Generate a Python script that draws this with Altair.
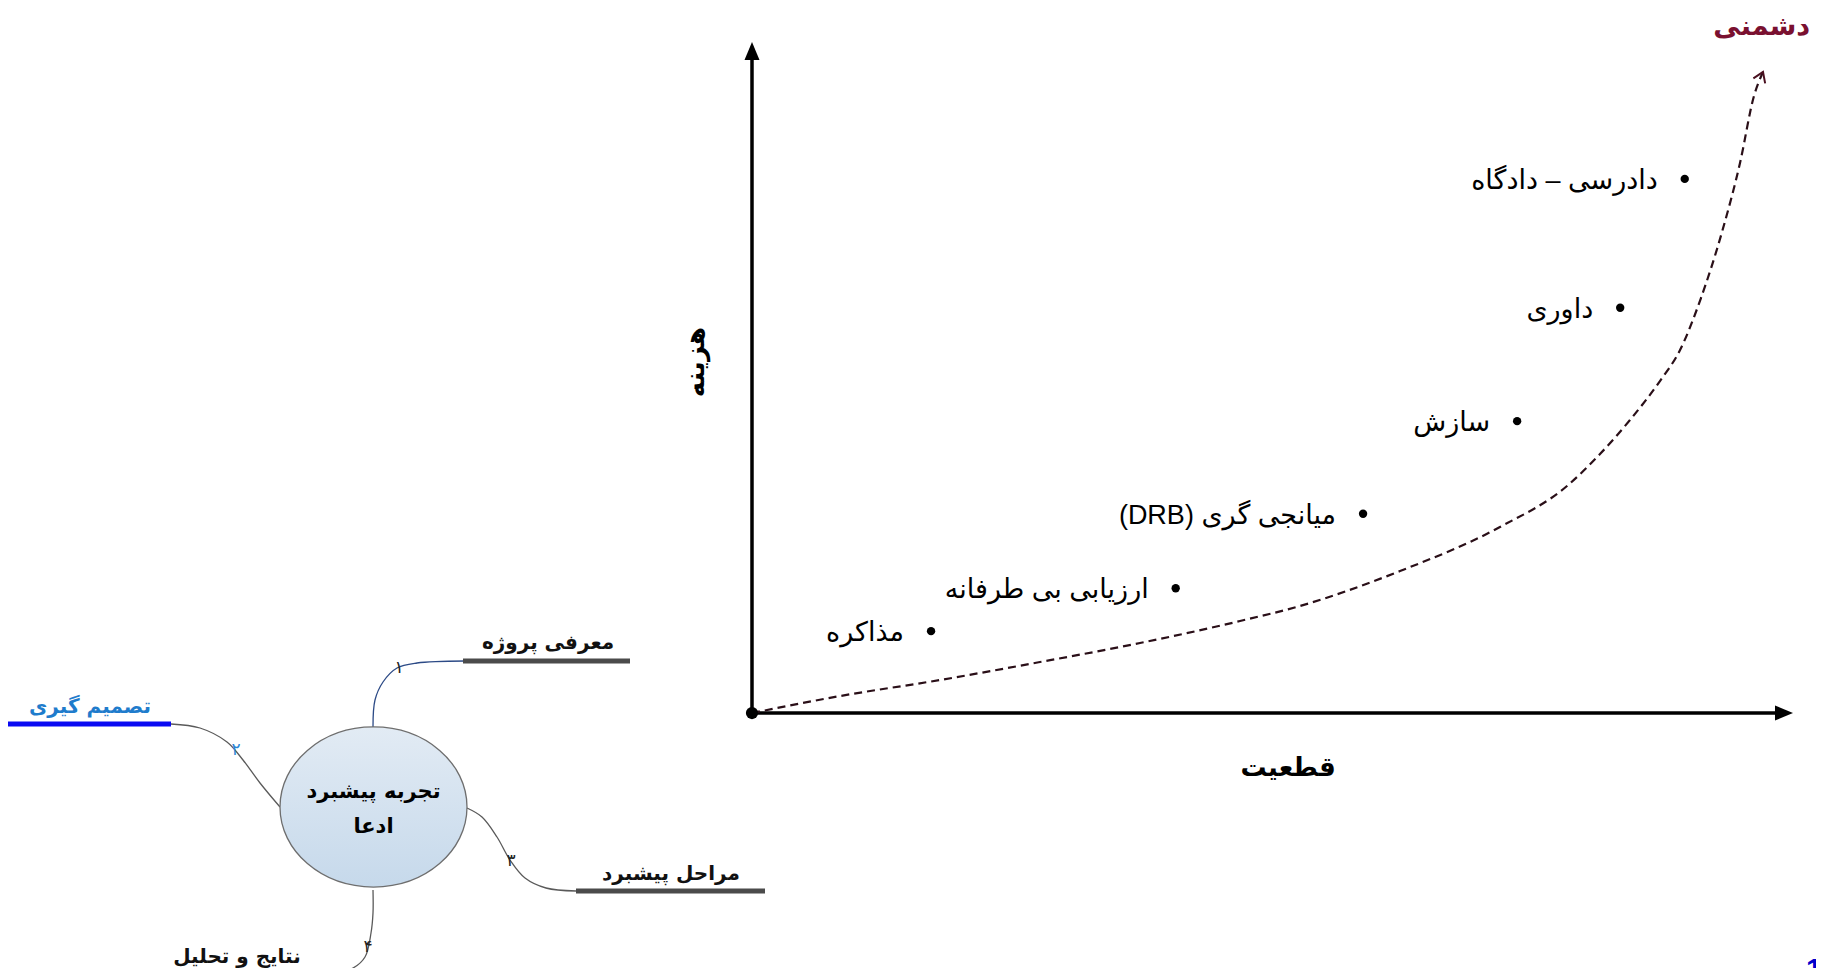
import altair as alt
import pandas as pd

# ---------------- main chart: certainty (x) vs cost (y), arbitrary 0-100 units ----------------
methods = ["مذاکره", "ارزیابی بی طرفانه", "میانجی گری (DRB)", "سازش", "داوری", "دادرسی – دادگاه"]
certainty = [17.2, 40.7, 58.7, 73.5, 83.4, 89.6]
cost = [12.2, 18.6, 29.7, 43.5, 60.4, 79.6]

trend_certainty = [0, 8.45, 18.06, 27.67, 37.27, 46.88, 52.64, 62.25, 71.85, 78.29, 81.46,
                   84.34, 87.22, 89.15, 91.16, 93.18, 94.91, 96.25, 97.12]
trend_cost = [0, 2.53, 4.92, 7.60, 10.43, 13.71, 15.95, 21.16, 27.72, 33.83, 38.60,
              43.67, 49.48, 54.10, 61.85, 71.68, 81.97, 91.95, 95.53]

axis_max = 100
x_title = "قطعیت"
y_title = "هزینه"
end_title = "دشمنی"

# ---------------- mind map (diagram units) ----------------
centre_lines = ["تجربه پیشبرد", "ادعا"]
centre_x, centre_y = [373.5], [807]
branch_names = ["معرفی پروژه", "تصمیم گیری", "مراحل پیشبرد", "نتایج و تحلیل"]
branch_nums = ["۱", "۲", "۳", "۴"]
bar_x1 = [463, 3, 576, 153]
bar_x2 = [630, 171, 765, 320]
bar_y = [661, 724, 891, 973]
label_x = [548, 90, 671, 237]
label_y = [643, 707, 874, 957]
num_x = [399, 236, 511, 368]
num_y = [668, 750, 861, 947]
conn1 = [(373, 727), (375, 700), (383, 682), (397, 668), (417, 663), (465, 661)]
conn2 = [(171, 724), (200, 728), (227, 742), (243, 760), (260, 783), (280, 807)]
conn3 = [(467, 808), (482, 817), (497, 837), (510, 860), (525, 878), (546, 888), (576, 891)]
conn4 = [(373, 890), (373, 913), (371, 933), (365, 957), (353, 968), (333, 973), (320, 973)]
page_number = "1"

RLE, PDF = "\u202b", "\u202c"

W, H = 1808, 960
# main frame scale domains
XD = [-71.47, 102.21]
YD = [-38.0, 105.07]
# diagram frame (page-like units)
MXD = [8, 1816]
MYD = [8, 968]


def X(f):
    return alt.X(f"{f}:Q", scale=alt.Scale(domain=XD, nice=False, zero=False), axis=None)


def Y(f):
    return alt.Y(f"{f}:Q", scale=alt.Scale(domain=YD, nice=False, zero=False), axis=None)


def MX(f):
    return alt.X(f"{f}:Q", scale=alt.Scale(domain=MXD, nice=False, zero=False), axis=None)


def MY(f):
    return alt.Y(f"{f}:Q", scale=alt.Scale(domain=MYD, nice=False, zero=False, reverse=True), axis=None)


FONT = "DejaVu Sans"
LABEL_FONT = "Liberation Sans, DejaVu Sans"

# ---- main layers
pts = pd.DataFrame({"m": [RLE + m + PDF for m in methods], "c": certainty, "v": cost})
trend = pd.DataFrame({"c": trend_certainty, "v": trend_cost, "i": list(range(len(trend_cost)))})
axes_df = pd.DataFrame({"x": [0, 0], "x2": [axis_max * 0.983, 0], "y": [0, 0], "y2": [0, axis_max * 0.976]})
heads = pd.DataFrame({"x": [axis_max, 0], "y": [0, axis_max], "a": [0, 270]})
origin = pd.DataFrame({"x": [0], "y": [0]})
titles = pd.DataFrame({"t": [x_title], "x": [51.5], "y": [-8.2]})
ytitle = pd.DataFrame({"t": [y_title], "x": [-5.4], "y": [52.3]})
etitle = pd.DataFrame({"t": [end_title], "x": [97.0], "y": [102.3]})
tip = trend.tail(1)

axis_rules = alt.Chart(axes_df).mark_rule(color="black", strokeWidth=3.5).encode(
    x=X("x"), x2="x2:Q", y=Y("y"), y2="y2:Q")
arrow_heads = alt.Chart(heads).mark_point(
    shape="M0,0 L-2.4,-1 L-2.4,1 Z", size=225, filled=True, color="black", opacity=1
).encode(x=X("x"), y=Y("y"), angle=alt.Angle("a:Q", scale=None))
origin_dot = alt.Chart(origin).mark_circle(size=150, color="black", opacity=1).encode(x=X("x"), y=Y("y"))
trend_line = alt.Chart(trend).mark_line(
    color="#2a0f18", strokeWidth=2.2, strokeDash=[8, 5], interpolate="monotone"
).encode(x=X("c"), y=Y("v"), order="i:Q")
trend_head = alt.Chart(tip).mark_point(
    shape="M-0.8,1.2 L0,0 L0.8,1.2", size=256, filled=False, color="#4a1020", strokeWidth=2,
    angle=23, opacity=1
).encode(x=X("c"), y=Y("v"))
dots = alt.Chart(pts).mark_circle(size=70, color="black", opacity=1).encode(x=X("c"), y=Y("v"))
dot_labels = alt.Chart(pts).mark_text(
    align="right", baseline="middle", dx=-27, dy=2, fontSize=27, font=LABEL_FONT, color="black"
).encode(x=X("c"), y=Y("v"), text="m:N")
xt = alt.Chart(titles).mark_text(fontSize=26, fontWeight="bold", font=FONT, color="black").encode(
    x=X("x"), y=Y("y"), text="t:N")
yt = alt.Chart(ytitle).mark_text(fontSize=26, fontWeight="bold", font=FONT, color="black", angle=270).encode(
    x=X("x"), y=Y("y"), text="t:N")
et = alt.Chart(etitle).mark_text(fontSize=27, fontWeight="bold", font=FONT, color="#7a1030").encode(
    x=X("x"), y=Y("y"), text="t:N")

main = alt.layer(axis_rules, trend_line, trend_head, arrow_heads, origin_dot, dots, dot_labels, xt, yt, et)

# ---- mind map layers
rows = []
for k, conn in enumerate([conn1, conn2, conn3, conn4]):
    for i, (px, py) in enumerate(conn):
        rows.append({"b": branch_nums[k], "i": i, "x": px, "y": py})
conn_df = pd.DataFrame(rows)
bars = pd.DataFrame({"b": branch_nums, "x1": bar_x1, "x2": bar_x2, "y": bar_y,
                     "name": branch_names, "lx": label_x, "ly": label_y,
                     "nx": num_x, "ny": num_y})
centre = pd.DataFrame({"x": centre_x, "y": centre_y})
centre_txt = pd.DataFrame({"t": centre_lines, "x": centre_x * 2, "y": [792, 827]})
pnum = pd.DataFrame({"t": [page_number], "x": [1806], "y": [979]})

conn_colors = alt.Scale(domain=branch_nums, range=["#2c4a86", "#5a5a5a", "#5a5a5a", "#5a5a5a"])
bar_colors = alt.Scale(domain=branch_nums, range=["#4b4b4b", "#0a0af2", "#4b4b4b", "#4b4b4b"])
text_colors = alt.Scale(domain=branch_nums, range=["#111111", "#1f7ccc", "#111111", "#111111"])
num_colors = alt.Scale(domain=branch_nums, range=["#222222", "#2a86d6", "#222222", "#222222"])

connectors = alt.Chart(conn_df).mark_line(strokeWidth=1.3, interpolate="catmull-rom").encode(
    x=MX("x"), y=MY("y"), order="i:Q", detail="b:N",
    color=alt.Color("b:N", scale=conn_colors, legend=None))
ellipse = alt.Chart(centre).mark_point(
    shape="M-1,0 A1,0.856 0 1,1 1,0 A1,0.856 0 1,1 -1,0 Z", size=34969, filled=True, opacity=1,
    fill=alt.LinearGradient(gradient="linear", x1=0, y1=0, x2=0, y2=1,
                            stops=[alt.GradientStop(color="#e2ebf4", offset=0),
                                   alt.GradientStop(color="#c6d9eb", offset=1)]),
    stroke="#6e6e6e", strokeWidth=1.3
).encode(x=MX("x"), y=MY("y"))
centre_text = alt.Chart(centre_txt).mark_text(fontSize=21, fontWeight="bold", font=FONT, color="black").encode(
    x=MX("x"), y=MY("y"), text="t:N")
bar_rules = alt.Chart(bars).mark_rule(strokeWidth=5, strokeCap="butt").encode(
    x=MX("x1"), x2="x2:Q", y=MY("y"),
    color=alt.Color("b:N", scale=bar_colors, legend=None))
bar_text = alt.Chart(bars).mark_text(fontSize=20, fontWeight="bold", font=FONT).encode(
    x=MX("lx"), y=MY("ly"), text="name:N",
    color=alt.Color("b:N", scale=text_colors, legend=None))
nums = alt.Chart(bars).mark_text(fontSize=17, font=FONT).encode(
    x=MX("nx"), y=MY("ny"), text="b:N",
    color=alt.Color("b:N", scale=num_colors, legend=None))
page = alt.Chart(pnum).mark_text(fontSize=30, fontWeight="bold", font="Liberation Sans",
                                 color="#0000cc", align="left", baseline="alphabetic").encode(
    x=MX("x"), y=MY("y"), text="t:N")

mind = alt.layer(connectors, ellipse, centre_text, bar_rules, bar_text, nums, page).resolve_scale(color="independent")

chart = alt.layer(mind, main).resolve_scale(x="independent", y="independent", color="independent").properties(
    width=W, height=H, padding=0, autosize=alt.AutoSizeParams(type="none"), background="white"
).configure_view(stroke=None)

chart.save("out.html", embed_options={"renderer": "svg", "actions": False})
